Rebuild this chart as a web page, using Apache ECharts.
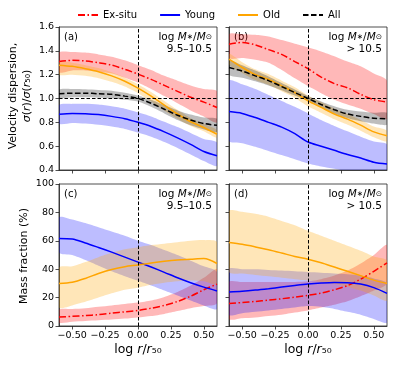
<!DOCTYPE html>
<html>
<head>
<meta charset="utf-8">
<script src="https://cdn.jsdelivr.net/npm/echarts@6/dist/echarts.min.js"></script>
<style>
  html, body { margin: 0; padding: 0; background: #fff; }
  #chart { width: 394px; height: 366px; }
</style>
</head>
<body>
<div id="chart"></div>
<script>
// x grid shared by all curves (log r/r50)
const xs = [-0.6, -0.5, -0.4, -0.3, -0.2, -0.1, 0, 0.1, 0.2, 0.3, 0.4, 0.5, 0.6];
const xTicks = [-0.5, -0.25, 0, 0.25, 0.5];
const yTicksSigma = [0.4, 0.6, 0.8, 1.0, 1.2, 1.4, 1.6];
const yTicksMass = [0, 20, 40, 60, 80, 100];

// panel (a): velocity dispersion, 9.5-10.5
const aExsitu   = [1.31, 1.32, 1.315, 1.30, 1.28, 1.245, 1.205, 1.16, 1.11, 1.06, 1.01, 0.97, 0.925];
const aExsituHi = [1.385, 1.39, 1.385, 1.37, 1.35, 1.32, 1.28, 1.24, 1.19, 1.15, 1.11, 1.08, 1.06];
const aExsituLo = [1.22, 1.235, 1.235, 1.225, 1.21, 1.175, 1.135, 1.08, 1.02, 0.96, 0.9, 0.85, 0.80];
const aYoung    = [0.868, 0.875, 0.873, 0.865, 0.85, 0.83, 0.80, 0.765, 0.72, 0.67, 0.615, 0.555, 0.52];
const aYoungHi  = [0.945, 0.955, 0.955, 0.95, 0.935, 0.915, 0.885, 0.85, 0.805, 0.76, 0.71, 0.66, 0.63];
const aYoungLo  = [0.79, 0.795, 0.79, 0.78, 0.765, 0.745, 0.715, 0.68, 0.635, 0.585, 0.53, 0.475, 0.435];
const aOld      = [1.28, 1.27, 1.25, 1.225, 1.19, 1.145, 1.087, 1.02, 0.944, 0.87, 0.805, 0.757, 0.70];
const aOldHi    = [1.31, 1.30, 1.28, 1.255, 1.22, 1.175, 1.12, 1.055, 0.98, 0.905, 0.835, 0.785, 0.735];
const aOldLo    = [1.20, 1.20, 1.19, 1.17, 1.14, 1.10, 1.045, 0.975, 0.9, 0.83, 0.77, 0.725, 0.67];
const aAll      = [1.04, 1.045, 1.045, 1.04, 1.035, 1.02, 1.0, 0.96, 0.91, 0.86, 0.82, 0.79, 0.775];
const aAllHi    = [1.075, 1.08, 1.078, 1.072, 1.065, 1.048, 1.025, 0.99, 0.945, 0.9, 0.865, 0.84, 0.83];
const aAllLo    = [1.005, 1.01, 1.01, 1.006, 1.0, 0.99, 0.975, 0.93, 0.875, 0.82, 0.775, 0.74, 0.72];

// panel (b): velocity dispersion, > 10.5
const bExsitu   = [1.455, 1.47, 1.45, 1.41, 1.37, 1.31, 1.25, 1.18, 1.125, 1.09, 1.035, 0.99, 0.97];
const bExsituHi = [1.54, 1.54, 1.535, 1.52, 1.49, 1.46, 1.43, 1.395, 1.355, 1.31, 1.27, 1.21, 1.15];
const bExsituLo = [1.34, 1.34, 1.325, 1.30, 1.24, 1.17, 1.105, 1.045, 0.99, 0.95, 0.915, 0.87, 0.83];
const bYoung    = [0.89, 0.875, 0.84, 0.80, 0.76, 0.705, 0.635, 0.60, 0.565, 0.53, 0.50, 0.465, 0.45];
const bYoungHi  = [1.15, 1.12, 1.08, 1.03, 0.98, 0.93, 0.875, 0.82, 0.77, 0.725, 0.68, 0.64, 0.615];
const bYoungLo  = [0.645, 0.625, 0.595, 0.56, 0.525, 0.49, 0.455, 0.43, 0.41, 0.39, 0.38, 0.37, 0.36];
const bOld      = [1.33, 1.26, 1.20, 1.16, 1.106, 1.05, 0.98, 0.925, 0.87, 0.827, 0.776, 0.72, 0.687];
const bOldHi    = [1.375, 1.305, 1.245, 1.205, 1.15, 1.095, 1.025, 0.97, 0.915, 0.87, 0.82, 0.765, 0.73];
const bOldLo    = [1.285, 1.215, 1.155, 1.115, 1.06, 1.005, 0.935, 0.88, 0.825, 0.78, 0.73, 0.675, 0.64];
const bAll      = [1.26, 1.23, 1.19, 1.15, 1.1, 1.05, 1.0, 0.95, 0.905, 0.87, 0.85, 0.835, 0.83];
const bAllHi    = [1.32, 1.28, 1.235, 1.185, 1.13, 1.075, 1.02, 0.975, 0.935, 0.905, 0.89, 0.88, 0.88];
const bAllLo    = [1.20, 1.175, 1.145, 1.11, 1.07, 1.025, 0.98, 0.925, 0.875, 0.835, 0.81, 0.79, 0.78];

// panel (c): mass fraction (%), 9.5-10.5
const cExsitu   = [6.3, 6.8, 7.3, 8, 9, 10, 11, 12.5, 14.5, 17.3, 21, 25.5, 29.5];
const cExsituHi = [11.5, 12, 12.5, 13.5, 14.5, 15.5, 16.5, 18, 20.5, 24, 28.5, 34, 40];
const cExsituLo = [2.5, 3, 3.5, 4, 4.5, 5.2, 6, 7, 8.5, 10.5, 12.5, 14, 16];
const cYoung    = [61.7, 61.3, 58.5, 55.3, 52, 48.5, 45, 41.5, 37.8, 34, 30.5, 27.4, 24.7];
const cYoungHi  = [76.5, 75, 72.5, 69.5, 66.5, 63.5, 60, 57, 53.5, 50, 46, 42, 38];
const cYoungLo  = [51.8, 50, 46.5, 42.5, 38.5, 35, 31.8, 28.5, 25, 21.5, 18, 14.5, 12];
const cOld      = [30, 30.8, 33.5, 37, 39.8, 41.8, 43, 44.4, 45.6, 46.5, 47, 47.5, 44];
const cOldHi    = [41, 42, 45, 48.5, 51.5, 54, 55.5, 57, 58, 59, 60, 60.5, 59];
const cOldLo    = [13, 14.5, 17, 20, 23, 25.5, 27, 29, 30.5, 31.5, 32, 31.5, 29.5];

// panel (d): mass fraction (%), > 10.5
const dExsitu   = [15.8, 16.5, 17.3, 18.2, 19.2, 20.3, 21.6, 23.2, 25.5, 28.5, 33, 38.5, 44.5];
const dExsituHi = [31, 31, 31, 31, 31, 31, 31.5, 33, 35.5, 39, 44, 50, 57];
const dExsituLo = [5, 5.5, 6, 7, 8, 9.5, 11, 13, 15, 17.5, 21, 25, 30];
const dYoung    = [24, 24.5, 25.3, 26.3, 27.4, 28.5, 29.5, 30.2, 30.6, 30.5, 29.5, 27, 23];
const dYoungHi  = [40, 40, 40, 39.5, 39, 38.5, 38, 37.5, 37, 36.5, 35.5, 33.5, 30];
const dYoungLo  = [8, 9, 10, 11, 12, 13, 14, 13.5, 12, 10, 8, 5, 2.5];
const dOld      = [58.8, 57.5, 55.7, 53.7, 51.4, 49, 47, 44.5, 41.5, 38.5, 35.5, 32.3, 30];
const dOldHi    = [81, 80.5, 79, 77, 74, 71, 67, 63.5, 60, 56.5, 53, 49, 46];
const dOldLo    = [38, 37, 36, 35, 34, 33, 32, 31, 29.5, 27.5, 25, 21.5, 18];

const RED = '#ff0000', BLUE = '#0000ff', ORANGE = '#ffa500', BLACK = '#000000';
const AXIS = '#222';
const FONT = 'DejaVu Sans';

const chart = echarts.init(document.getElementById('chart'));

function fmtMinus(s) { return s.replace('-', '\u2212'); }

function xAxisFor(g, labels) {
  return {
    type: 'value', gridIndex: g, min: -0.6, max: 0.6,
    axisLine: { show: true, onZero: false, lineStyle: { color: AXIS, width: 0.8 } },
    axisTick: { show: true, customValues: xTicks, length: 3.5, lineStyle: { color: AXIS, width: 0.8 } },
    axisLabel: { show: labels, customValues: xTicks, margin: 5, fontSize: 9.5, color: '#000', fontFamily: FONT,
      formatter: v => fmtMinus(v.toFixed(2)) },
    splitLine: { show: false }
  };
}

function yAxisFor(g, ticks, min, max, digits, labels) {
  return {
    type: 'value', gridIndex: g, min: min, max: max,
    axisLine: { show: true, onZero: false, lineStyle: { color: AXIS, width: 0.8 } },
    axisTick: { show: true, customValues: ticks, length: 3.5, lineStyle: { color: AXIS, width: 0.8 } },
    axisLabel: { show: labels, customValues: ticks, margin: 5, fontSize: 9.5, color: '#000', fontFamily: FONT,
      formatter: v => v.toFixed(digits) },
    splitLine: { show: false }
  };
}

// shaded band between lo and hi, drawn as one polygon in axis coordinates
function band(g, lo, hi, color) {
  return {
    type: 'custom', xAxisIndex: g, yAxisIndex: g, silent: true, clip: true, z: 1,
    data: xs.map((x, i) => [x, lo[i], hi[i]]),
    encode: { x: 0, y: [1, 2] },
    renderItem: function (params, api) {
      if (params.dataIndex !== 0) return null;
      const top = xs.map((x, i) => api.coord([x, hi[i]]));
      const bot = xs.map((x, i) => api.coord([x, lo[i]])).reverse();
      return {
        type: 'polygon',
        shape: { points: top.concat(bot), smooth: 0.25 },
        style: { fill: color }
      };
    }
  };
}

function line(g, name, vals, color, dash, extra) {
  const s = {
    type: 'line', name: name, xAxisIndex: g, yAxisIndex: g,
    data: xs.map((x, i) => [x, vals[i]]),
    symbol: 'none', smooth: 0.3, z: 3, silent: true,
    lineStyle: { color: color, width: 1.5, type: dash },
    itemStyle: { color: color }
  };
  return Object.assign(s, extra || {});
}

const dashDot = [7, 2.5, 1.5, 2.5];
const dashed = [5.5, 2.5];
const refStyle = { color: '#000', width: 1, type: [3.5, 2] };

function refLines(withOne) {
  const d = [{ xAxis: 0 }];
  if (withOne) d.push({ yAxis: 1 });
  return { markLine: { silent: true, symbol: ['none', 'none'], label: { show: false },
    lineStyle: refStyle, data: d, animation: false } };
}

const bandRed = 'rgba(255,0,0,0.28)';
const bandBlue = 'rgba(0,0,255,0.26)';
const bandOrange = 'rgba(255,165,0,0.28)';
const bandGrey = 'rgba(0,0,0,0.26)';

const series = [
  band(0, aExsituLo, aExsituHi, bandRed),
  band(0, aYoungLo, aYoungHi, bandBlue),
  band(0, aOldLo, aOldHi, bandOrange),
  band(0, aAllLo, aAllHi, bandGrey),
  line(0, 'Ex-situ', aExsitu, RED, dashDot, refLines(true)),
  line(0, 'Young', aYoung, BLUE, 'solid'),
  line(0, 'Old', aOld, ORANGE, 'solid'),
  line(0, 'All', aAll, BLACK, dashed),

  band(1, bExsituLo, bExsituHi, bandRed),
  band(1, bYoungLo, bYoungHi, bandBlue),
  band(1, bOldLo, bOldHi, bandOrange),
  band(1, bAllLo, bAllHi, bandGrey),
  line(1, 'Ex-situ', bExsitu, RED, dashDot, refLines(true)),
  line(1, 'Young', bYoung, BLUE, 'solid'),
  line(1, 'Old', bOld, ORANGE, 'solid'),
  line(1, 'All', bAll, BLACK, dashed),

  band(2, cExsituLo, cExsituHi, bandRed),
  band(2, cYoungLo, cYoungHi, bandBlue),
  band(2, cOldLo, cOldHi, bandOrange),
  line(2, 'Ex-situ', cExsitu, RED, dashDot, refLines(false)),
  line(2, 'Young', cYoung, BLUE, 'solid'),
  line(2, 'Old', cOld, ORANGE, 'solid'),

  band(3, dExsituLo, dExsituHi, bandRed),
  band(3, dYoungLo, dYoungHi, bandBlue),
  band(3, dOldLo, dOldHi, bandOrange),
  line(3, 'Ex-situ', dExsitu, RED, dashDot, refLines(false)),
  line(3, 'Young', dYoung, BLUE, 'solid'),
  line(3, 'Old', dOld, ORANGE, 'solid')
];

const richMath = {
  n: { fontFamily: FONT, fontSize: 10.5, fill: '#000' },
  i: { fontFamily: FONT, fontSize: 10.5, fontStyle: 'italic', fill: '#000' },
  s: { fontFamily: FONT, fontSize: 7.5, fill: '#000' }
};

function panelText(x, y, tag, range) {
  return [
    { type: 'text', x: x + 5, y: y + 10.5, style: { text: tag, fontFamily: FONT, fontSize: 10, fill: '#000',
      align: 'left', verticalAlign: 'middle' } },
    { type: 'text', x: x + 153, y: y + 10.5, style: {
      text: '{n|log }{i|M}{s|\u2217}{n|/}{i|M}{s|\u2299}', rich: richMath,
      align: 'right', verticalAlign: 'middle' } },
    { type: 'text', x: x + 153, y: y + 22.5, style: { text: range, fontFamily: FONT, fontSize: 10.5, fill: '#000',
      align: 'right', verticalAlign: 'middle' } }
  ];
}

const labelRich = {
  n: { fontFamily: FONT, fontSize: 11, fill: '#000', lineHeight: 14 },
  i: { fontFamily: FONT, fontSize: 11, fontStyle: 'italic', fill: '#000', lineHeight: 14 }
};
const xLabelRich = {
  n: { fontFamily: FONT, fontSize: 12.5, fill: '#000' },
  i: { fontFamily: FONT, fontSize: 12.5, fontStyle: 'italic', fill: '#000' }
};

const graphics = [
  { type: 'text', x: 20, y: 96, rotation: Math.PI / 2, style: {
    text: '{n|Velocity dispersion,}\n{i|\u03c3}{n|(}{i|r}{n|)/}{i|\u03c3}{n|(}{i|r}{n|\u2085\u2080)}',
    rich: labelRich, align: 'center', verticalAlign: 'middle' } },
  { type: 'text', x: 24, y: 256, rotation: Math.PI / 2, style: {
    text: 'Mass fraction (%)', fontFamily: FONT, fontSize: 11, fill: '#000',
    align: 'center', verticalAlign: 'middle' } },
  { type: 'text', x: 138, y: 350, style: {
    text: '{n|log }{i|r}{n|/}{i|r}{n|\u2085\u2080}', rich: xLabelRich, align: 'center', verticalAlign: 'middle' } },
  { type: 'text', x: 308, y: 350, style: {
    text: '{n|log }{i|r}{n|/}{i|r}{n|\u2085\u2080}', rich: xLabelRich, align: 'center', verticalAlign: 'middle' } }
].concat(
  panelText(59, 27, '(a)', '9.5\u201310.5'),
  panelText(229, 27, '(b)', '> 10.5'),
  panelText(59, 184, '(c)', '9.5\u201310.5'),
  panelText(229, 184, '(d)', '> 10.5')
);

const gridBox = { show: true, borderColor: AXIS, borderWidth: 0.8, backgroundColor: 'transparent' };

chart.setOption({
  animation: false,
  textStyle: { fontFamily: FONT },
  legend: {
    data: ['Ex-situ', 'Young', 'Old', 'All'],
    left: 77, top: 10, padding: 0, itemWidth: 20, itemHeight: 10, itemGap: 22,
    itemStyle: { opacity: 0 },
    textStyle: { fontSize: 10, color: '#000', fontFamily: FONT },
    selectedMode: false
  },
  grid: [
    Object.assign({ left: 59, top: 27, width: 158, height: 143 }, gridBox),
    Object.assign({ left: 229, top: 27, width: 158, height: 143 }, gridBox),
    Object.assign({ left: 59, top: 184, width: 158, height: 142 }, gridBox),
    Object.assign({ left: 229, top: 184, width: 158, height: 142 }, gridBox)
  ],
  xAxis: [xAxisFor(0, false), xAxisFor(1, false), xAxisFor(2, true), xAxisFor(3, true)],
  yAxis: [
    yAxisFor(0, yTicksSigma, 0.4, 1.6, 1, true),
    yAxisFor(1, yTicksSigma, 0.4, 1.6, 1, false),
    yAxisFor(2, yTicksMass, 0, 100, 0, true),
    yAxisFor(3, yTicksMass, 0, 100, 0, false)
  ],
  graphic: graphics,
  series: series
});
</script>
</body>
</html>
